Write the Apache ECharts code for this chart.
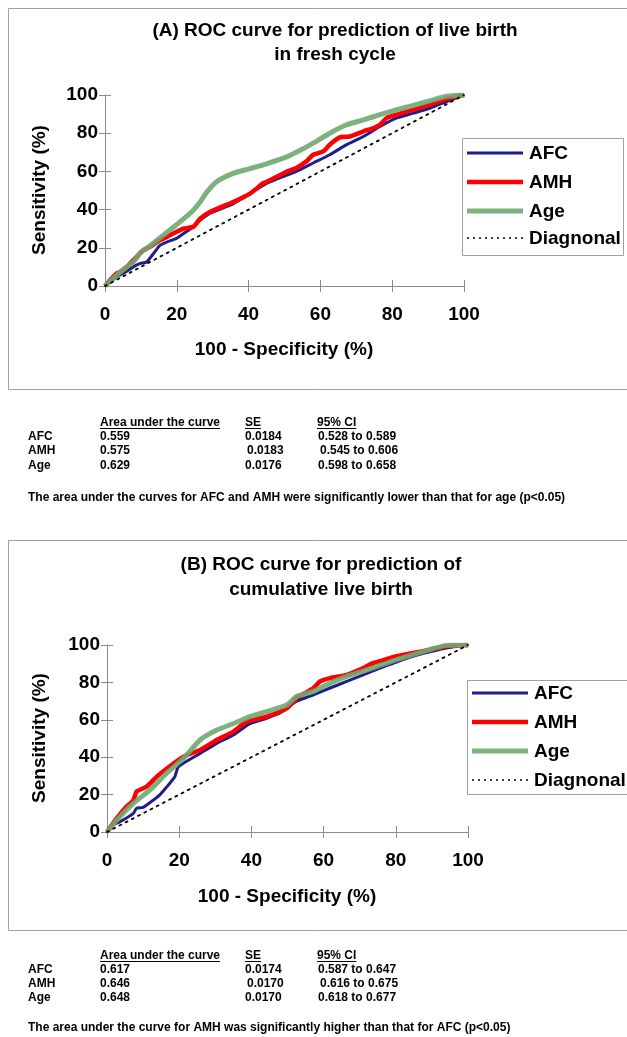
<!DOCTYPE html>
<html><head><meta charset="utf-8">
<script src="https://cdn.jsdelivr.net/npm/echarts@6/dist/echarts.min.js"></script>
<style>html,body{margin:0;padding:0;background:#fff}#c{width:627px;height:1037px}</style>
</head><body><div id="c"></div>
<script>
// ---------- data ----------
const axisTicks = [0, 20, 40, 60, 80, 100];
const seriesNames = ['AFC', 'AMH', 'Age', 'Diagnonal'];

// Panel A: live birth in fresh cycle
const aAfcX = [0,3.2,5,7.9,9.7,11.6,13.5,15.3,17.2,20,21.8,24.6,26.5,29.2,35.7,40.4,45,50.6,53.3,58,62.6,67.3,72,76.6,81.3,85.9,90.6,95.2,100];
const aAfcY = [0,4.7,6.5,10,11.7,12.6,17,21.3,23,25,27.4,31,34.4,38,43,48.4,53.7,58,60,64.4,68.7,74,78.3,83.5,88,90.5,93.2,96.6,100];
const aAmhX = [0,3.2,5,7.9,10.7,12.5,15.3,17.2,21.8,24.6,26.5,29.2,35.7,40.4,44,45,50.6,53.3,56.1,58,60.8,62.6,65.4,68.2,72,74.8,76.6,78.5,81.3,85.9,90.6,95.2,100];
const aAmhY = [0,6.5,8,13.5,18.7,20.5,24,25.7,30,31,35.3,38.8,44,48.4,53.7,54.5,59.8,61.8,65.3,68.7,70.5,74,77.8,78.3,81,82.7,84.4,88,89.7,92.3,95,98,100];
const aAgeX = [0,5,7.9,10,12.5,17.2,21.8,24.6,26.5,28.3,31,35.7,40.4,45,50.6,53.3,58,62.6,67.3,72,76.6,81.3,85.9,90.6,95.2,100];
const aAgeY = [0,8.5,12.6,17.8,21,28,35,39.7,44,49,54.5,59,61.5,64,67.6,70,74.8,80,84.4,87,89.7,92.3,94.6,97,99.3,100];

// Panel B: cumulative live birth
const bAfcX = [0,0.8,3.6,7.3,8.2,10,11.9,14.7,16.5,17.9,18.8,19.8,25.8,30.4,35,39.6,44.2,47.9,52.5,57.2,61.8,66.4,71,75.6,80.2,84.8,89.4,94,100];
const bAfcY = [0,2.9,5.5,10,12.7,13.2,15.7,20,24,27.3,29.6,34.9,42,47.4,51.9,58,60.8,63.6,69.9,73.4,77,80.5,84,87.7,90.9,93.9,96.3,98.4,100];
const bAmhX = [0,2.7,5.4,7.3,8.2,11,13.8,17.5,21.2,25.8,30.4,35,38.7,44.2,49.8,52.5,57.2,59,61.8,66.4,71,73.8,75.6,80.2,84.8,89.4,94,100];
const bAmhY = [0,7.3,13.6,17,21.6,24.3,29.6,35.3,40.3,43.9,49.2,53.7,59,61.7,66.1,71.6,77,80.5,82.3,84,87.7,90.4,91.3,94,95.7,97.5,99.3,100];
const bAgeX = [0,3.6,7.3,11.9,16.5,21.2,25.8,30.4,35,39.6,44.2,49.8,52.5,57.2,61.8,66.4,71,75.6,80.2,84.8,89.4,94,100];
const bAgeY = [0,8.2,15.3,22.5,31.4,39.4,49.2,54.5,58,61.7,64.4,67.9,72.5,75.2,79.6,83.2,86,89.1,92.1,94.8,97.5,99.8,100];

const diagX = [0, 100];
const diagY = [0, 100];

// tables
const tableHeader = ['Area under the curve', 'SE', '95% CI'];
const rowLabels = ['AFC', 'AMH', 'Age'];
const aucA = ['0.559', '0.575', '0.629'];
const seA = ['0.0184', '0.0183', '0.0176'];
const ciA = ['0.528 to 0.589', '0.545 to 0.606', '0.598 to 0.658'];
const aucB = ['0.617', '0.646', '0.648'];
const seB = ['0.0174', '0.0170', '0.0170'];
const ciB = ['0.587 to 0.647', '0.616 to 0.675', '0.618 to 0.677'];
const titleA = ['(A) ROC curve for prediction of live birth', 'in fresh cycle'];
const titleB = ['(B) ROC curve for prediction of', 'cumulative live birth'];
const footA = 'The area under the curves for AFC and AMH were significantly lower than that for age (p<0.05)';
const footB = 'The area under the curve for AMH was significantly higher than that for AFC (p<0.05)';
const xTitle = '100 - Specificity (%)';
const yTitle = 'Sensitivity (%)';

// ---------- styling / layout ----------
const FF = '"Liberation Sans", Arial, Helvetica, sans-serif';
const colors = ['#1e1e8c', '#ff0000', '#6fa86f', '#000000'];
const widths = [3, 4.5, 5, 1.8];
const AXC = '#8c8c8c';
const zip = (xs, ys) => xs.map((x, i) => [x, ys[i]]);

const panels = [
  { grid: { left: 105, top: 95, width: 359, height: 191 }, data: [zip(aAfcX,aAfcY), zip(aAmhX,aAmhY), zip(aAgeX,aAgeY), zip(diagX,diagY)] },
  { grid: { left: 107, top: 645, width: 361, height: 187 }, data: [zip(bAfcX,bAfcY), zip(bAmhX,bAmhY), zip(bAgeX,bAgeY), zip(diagX,diagY)] }
];

const base = {
  type: 'value', min: axisTicks[0], max: axisTicks[axisTicks.length - 1],
  interval: axisTicks[1] - axisTicks[0], splitLine: { show: false },
  axisLine: { show: true, lineStyle: { color: AXC, width: 1 } }
};
const xAxes = [], yAxes = [], series = [];
panels.forEach((p, gi) => {
  xAxes.push(Object.assign({}, base, { gridIndex: gi, position: 'bottom',
    axisTick: { show: true, length: 6, lineStyle: { color: AXC } },
    axisLabel: { margin: 19, fontSize: 19, fontWeight: 'bold', color: '#000', fontFamily: FF } }));
  xAxes.push(Object.assign({}, base, { gridIndex: gi, position: 'bottom',
    axisLine: { show: false }, axisTick: { show: true, inside: true, length: 6, lineStyle: { color: AXC } },
    axisLabel: { show: false } }));
  yAxes.push(Object.assign({}, base, { gridIndex: gi, position: 'left',
    axisTick: { show: true, length: 6, lineStyle: { color: AXC } },
    axisLabel: { margin: 7, fontSize: 19, fontWeight: 'bold', color: '#000', fontFamily: FF } }));
  yAxes.push(Object.assign({}, base, { gridIndex: gi, position: 'left',
    axisLine: { show: false }, axisTick: { show: true, inside: true, length: 6, lineStyle: { color: AXC } },
    axisLabel: { show: false } }));
  const order = [3, 0, 1, 2];
  order.forEach(si => {
    series.push({
      name: seriesNames[si], type: 'line', xAxisIndex: gi * 2, yAxisIndex: gi * 2,
      data: p.data[si], symbol: 'none', smooth: si === 3 ? false : 0.2, silent: true, animation: false,
      z: 2 + si,
      lineStyle: { color: colors[si], width: widths[si], type: si === 3 ? [2, 5] : 'solid',
        opacity: si === 2 ? 0.9 : 1, cap: si === 3 ? 'round' : 'butt' }
    });
  });
});

// ---------- graphic text ----------
const G = [];
function txt(x, y, text, size, align, extra) {
  const e = { type: 'text', x: x, y: y, silent: true, z: 20,
    style: { text: text, font: 'bold ' + size + 'px ' + FF, fill: '#000',
      textAlign: align || 'left', textVerticalAlign: 'middle', align: align || 'left', verticalAlign: 'middle' } };
  if (extra) Object.assign(e, extra);
  G.push(e);
}
const mctx = document.createElement('canvas').getContext('2d');
function tw(text, size) { mctx.font = 'bold ' + size + 'px ' + FF; return mctx.measureText(text).width; }

// frames
G.push({ type: 'rect', silent: true, shape: { x: 8.5, y: 8.5, width: 660, height: 381 }, style: { fill: 'none', stroke: '#a0a0a0', lineWidth: 1 } });
G.push({ type: 'rect', silent: true, shape: { x: 8.5, y: 540.5, width: 660, height: 390 }, style: { fill: 'none', stroke: '#a0a0a0', lineWidth: 1 } });

// titles
txt(335, 31, titleA[0], 19, 'center'); txt(335, 55, titleA[1], 19, 'center');
txt(321, 565, titleB[0], 19, 'center'); txt(321, 590, titleB[1], 19, 'center');
// axis titles
txt(284, 350, xTitle, 19, 'center'); txt(287, 897, xTitle, 19, 'center');
txt(40, 190, yTitle, 19, 'center', { rotation: Math.PI / 2 });
txt(40, 738, yTitle, 19, 'center', { rotation: Math.PI / 2 });

// legends
function legend(bx, by, bw, bh, lx, ys) {
  G.push({ type: 'rect', silent: true, z: 15, shape: { x: bx + 0.5, y: by + 0.5, width: bw, height: bh }, style: { fill: '#fff', stroke: '#a0a0a0', lineWidth: 1 } });
  seriesNames.forEach((n, i) => {
    G.push({ type: 'line', silent: true, z: 16, shape: { x1: lx, y1: ys[i], x2: lx + 56, y2: ys[i] },
      style: { stroke: colors[i], lineWidth: i === 3 ? 1.6 : widths[i], lineDash: i === 3 ? [2, 4] : null, opacity: i === 2 ? 0.9 : 1 } });
    txt(lx + 62, ys[i] + 1, n, 19, 'left');
  });
}
legend(462, 138, 161, 117, 467, [153, 182, 211, 238]);
legend(467, 680, 170, 114, 472, [693, 722, 751, 780]);

// tables
function table(hy, rowY, fy, auc, se, ci, foot) {
  const cols = [100, 245, 317];
  tableHeader.forEach((h, i) => {
    txt(cols[i], hy, h, 12, 'left');
    G.push({ type: 'line', silent: true, shape: { x1: cols[i], y1: hy + 5.5, x2: cols[i] + tw(h, 12), y2: hy + 5.5 }, style: { stroke: '#000', lineWidth: 1 } });
  });
  rowLabels.forEach((r, i) => {
    const y = rowY[i];
    const dx = i === 1 ? 2 : 0;
    txt(28, y, r, 12, 'left');
    txt(cols[0], y, auc[i], 12, 'left');
    txt(cols[1] + dx, y, se[i], 12, 'left');
    txt(cols[2] + 1 + dx, y, ci[i], 12, 'left');
  });
  txt(28, fy, foot, 12, 'left');
}
table(423, [437, 451, 466], 498, aucA, seA, ciA, footA);
table(956, [970, 984, 998], 1028, aucB, seB, ciB, footB);

const chart = echarts.init(document.getElementById('c'), null, { renderer: 'canvas' });
chart.setOption({
  backgroundColor: '#fff',
  animation: false,
  grid: panels.map(p => Object.assign({ containLabel: false }, p.grid)),
  xAxis: xAxes,
  yAxis: yAxes,
  series: series,
  graphic: { elements: G }
});
</script></body></html>
